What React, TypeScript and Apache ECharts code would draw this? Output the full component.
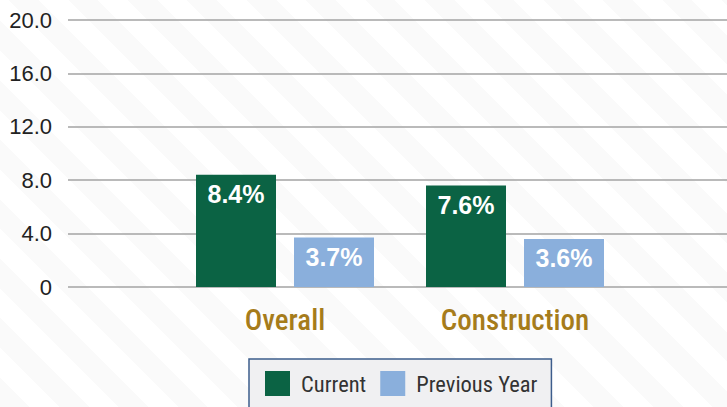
import React, { useEffect, useRef } from "react";
import * as echarts from "echarts";

const categories = ["Overall", "Construction"];
const currentValues = [8.4, 7.6];
const previousValues = [3.7, 3.6];
const seriesNames = ["Current", "Previous Year"];
const yMin = 0;
const yMax = 20;
const yInterval = 4;

export default function App() {
  const ref = useRef<HTMLDivElement>(null);
  useEffect(() => {
    if (!ref.current) return;
    const chart = echarts.init(ref.current, null, { renderer: "svg" });
    const narrow = "Roboto Condensed, Roboto";
    const sans = "Liberation Sans";
    const barLabel = {
      show: true,
      position: "insideTop",
      distance: 7,
      color: "#ffffff",
      fontSize: 25,
      fontWeight: "bold",
      fontFamily: sans,
      formatter: (p: any) => p.value.toFixed(1) + "%",
    };
    chart.setOption({
      animation: false,
      grid: [
        { left: 68, right: 0, top: 20, bottom: 120 },
        { left: 170, right: 97, top: 20, bottom: 120 },
      ],
      xAxis: [
        { gridIndex: 0, type: "category", data: [""], show: false },
        {
          gridIndex: 1,
          type: "category",
          data: categories,
          axisLine: { show: false },
          axisTick: { show: false },
          axisLabel: {
            color: "#a67c1b",
            fontSize: 29,
            fontFamily: narrow,
            fontWeight: 500,
            margin: 18,
          },
        },
      ],
      yAxis: [
        {
          gridIndex: 0,
          type: "value",
          min: yMin,
          max: yMax,
          interval: yInterval,
          axisLine: { show: false },
          axisTick: { show: false },
          axisLabel: {
            margin: 16,
            fontSize: 22,
            color: "#222222",
            fontFamily: sans,
            formatter: (v: number) => (v === 0 ? "0" : v.toFixed(1)),
          },
          splitLine: { lineStyle: { color: "#a3a3a3", width: 1.5 } },
        },
        {
          gridIndex: 1,
          type: "value",
          min: yMin,
          max: yMax,
          interval: yInterval,
          show: false,
          splitLine: { show: false },
        },
      ],
      legend: {
        data: seriesNames,
        left: 249,
        top: 359,
        itemWidth: 25,
        itemHeight: 25,
        itemGap: 14,
        padding: [12, 14, 14, 16],
        backgroundColor: "#f0f0f2",
        borderColor: "#3d5d8c",
        borderWidth: 1.5,
        icon: "rect",
        textStyle: {
          fontSize: 22.5,
          fontFamily: narrow,
          color: "#333333",
          padding: [0, 0, 0, 6],
        },
      },
      series: [
        {
          name: seriesNames[0],
          type: "bar",
          xAxisIndex: 1,
          yAxisIndex: 1,
          data: currentValues,
          barWidth: 80,
          barGap: "22.5%",
          itemStyle: { color: "#0b6344" },
          label: barLabel,
        },
        {
          name: seriesNames[1],
          type: "bar",
          xAxisIndex: 1,
          yAxisIndex: 1,
          data: previousValues,
          barWidth: 80,
          barGap: "22.5%",
          itemStyle: { color: "#8aafdc" },
          label: barLabel,
        },
      ],
    });
    return () => chart.dispose();
  }, []);
  return (
    <div
      style={{
        position: "absolute",
        left: 0,
        top: 0,
        width: 727,
        height: 407,
        overflow: "hidden",
        background:
          "repeating-linear-gradient(45deg, #fafafa 0px, #fafafa 21px, #ffffff 21px, #ffffff 42px)",
      }}
    >
      <div ref={ref} style={{ width: 727, height: 407 }} />
    </div>
  );
}
